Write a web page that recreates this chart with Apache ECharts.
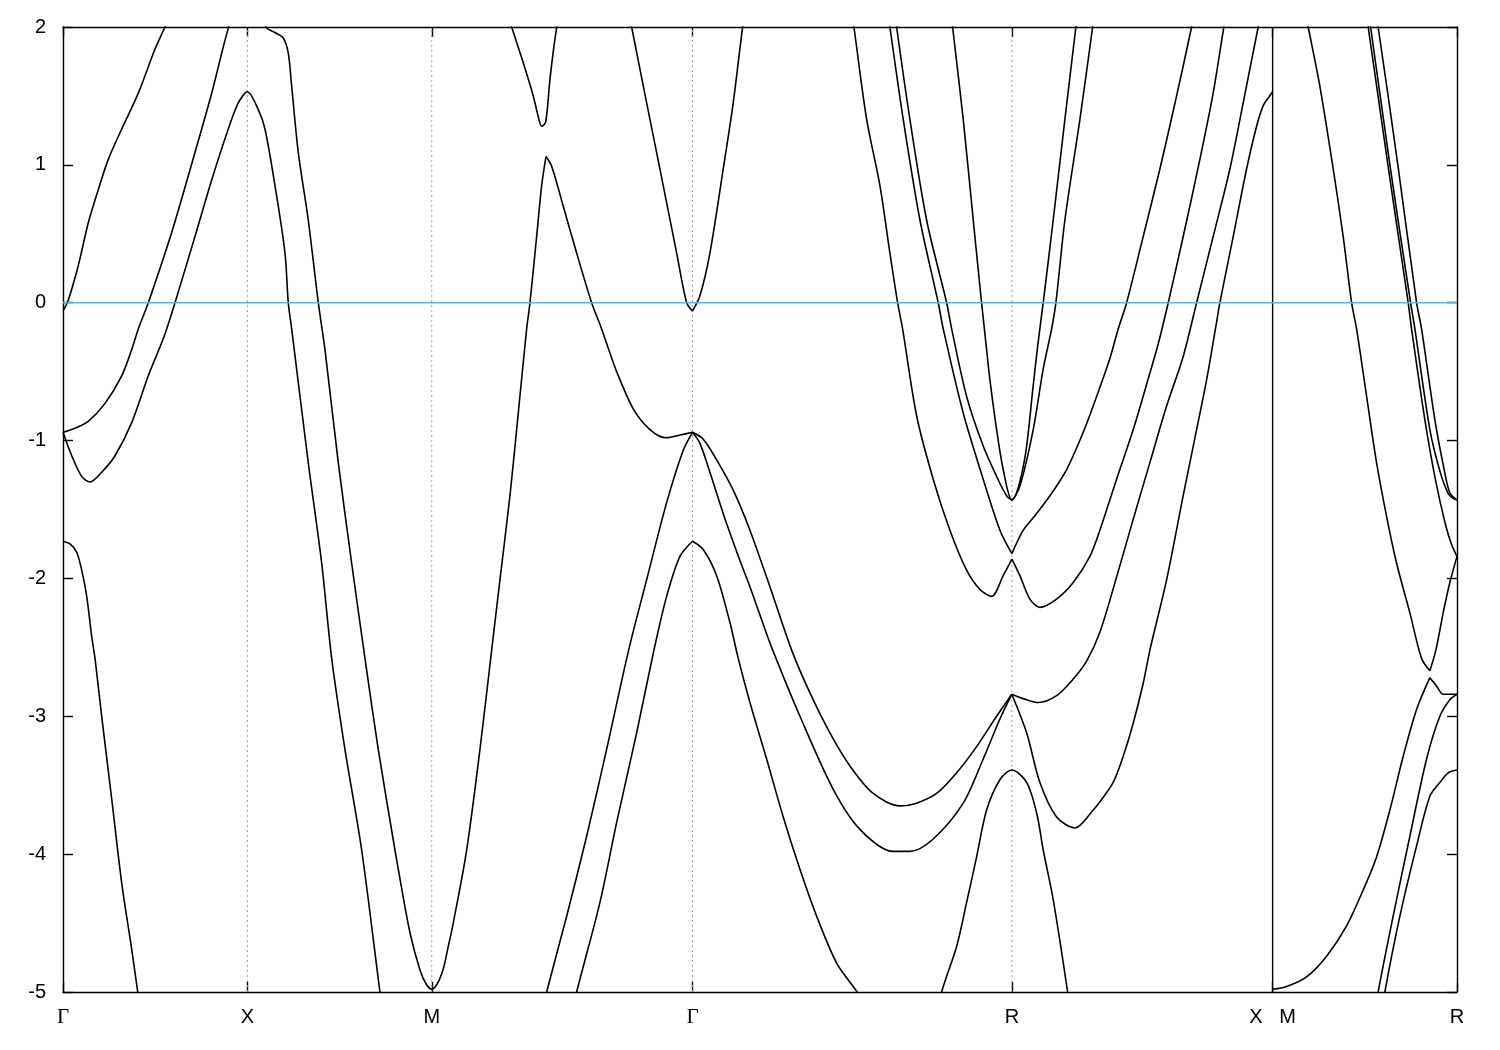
<!DOCTYPE html>
<html>
<head>
<meta charset="utf-8">
<script src="https://cdn.jsdelivr.net/npm/echarts@6/dist/echarts.min.js"></script>
<style>
html,body{margin:0;padding:0;background:#fff;}
#chart{width:1500px;height:1050px;}
</style>
</head>
<body>
<div id="chart"></div>
<script>
// High-symmetry points along the k-path (cumulative path length)
const kTicks = [0, 0.5, 1.0, 1.7071, 2.5731, 3.2802, 3.7802];
const kLabels = ['Γ', 'X', 'M', 'Γ', 'R', 'X   M', 'R'];
const dottedAt = [0.5, 1.0, 1.7071, 2.5731];
const breakAt = 3.2802;
const eTicks = [-5, -4, -3, -2, -1, 0, 1, 2];

// Bands, [k, E] pairs
const bandA = [[0,-0.06],[0.0144,0.02],[0.0415,0.27],[0.0686,0.58],[0.0957,0.82],[0.1228,1.04],[0.1592,1.26],[0.2042,1.52],[0.2495,1.84],[0.2766,2.0],[0.2901,2.09]];
const bandB = [[0,-0.94],[0.0325,-0.91],[0.0686,-0.86],[0.1139,-0.73],[0.1592,-0.53],[0.1863,-0.34],[0.2042,-0.19],[0.2313,0],[0.2947,0.51],[0.3579,1.09],[0.4032,1.52],[0.4482,1.99],[0.5,2.4],[0.5504,2.0],[0.5748,1.96],[0.5973,1.92],[0.6109,1.81],[0.6201,1.57],[0.6380,1.09],[0.6651,0.60],[0.6923,0],[0.7104,-0.34],[0.7465,-1.16],[0.7828,-1.89],[0.8189,-2.58],[0.8549,-3.24],[0.9002,-3.97],[0.9138,-4.18],[0.9409,-4.57],[0.9680,-4.84],[0.9843,-4.94],[1.0,-4.98],[1.0152,-4.94],[1.0315,-4.83],[1.0439,-4.68],[1.0583,-4.50],[1.0946,-3.97],[1.1307,-3.24],[1.1624,-2.52],[1.1849,-2.01],[1.2120,-1.40],[1.2302,-0.92],[1.2573,-0.19],[1.2663,0.0],[1.2844,0.48],[1.2980,0.85],[1.3097,1.06],[1.3251,0.99],[1.3566,0.70],[1.3929,0.36],[1.4336,0.0],[1.4607,-0.19],[1.4786,-0.33],[1.5014,-0.50],[1.5464,-0.77],[1.5917,-0.92],[1.6369,-0.98],[1.6730,-0.96],[1.7071,-0.94]];
const bandC = [[0,-0.94],[0.0236,-1.11],[0.0507,-1.26],[0.0732,-1.30],[0.1049,-1.23],[0.1410,-1.11],[0.1863,-0.87],[0.2313,-0.53],[0.2676,-0.29],[0.2812,-0.19],[0.3037,0],[0.3579,0.48],[0.4032,0.89],[0.4482,1.26],[0.4753,1.45],[0.5,1.53],[0.5296,1.40],[0.5477,1.26],[0.5748,0.85],[0.6020,0.36],[0.6109,0],[0.6201,-0.19],[0.6651,-1.16],[0.7015,-1.89],[0.7286,-2.58],[0.7646,-3.24],[0.8099,-3.97],[0.8595,-5.0],[0.8677,-5.15]];
const bandD = [[0,-1.73],[0.0190,-1.75],[0.0371,-1.81],[0.0507,-1.94],[0.0643,-2.13],[0.0778,-2.42],[0.0868,-2.58],[0.1049,-3.0],[0.1321,-3.60],[0.1592,-4.21],[0.1863,-4.69],[0.2026,-5.0],[0.2088,-5.12]];
const bandV = [[1.2058,2.09],[1.2167,2.0],[1.2481,1.74],[1.2752,1.50],[1.2888,1.35],[1.2980,1.28],[1.3088,1.31],[1.3205,1.62],[1.3313,1.86],[1.3387,2.0],[1.3422,2.09]];
const bandG = [[1.5355,2.09],[1.5420,2.0],[1.5827,1.45],[1.6277,0.85],[1.6641,0.36],[1.6912,0],[1.7071,-0.06],[1.7272,0.05],[1.7543,0.36],[1.7904,0.97],[1.8175,1.45],[1.8430,2.0],[1.8492,2.09]];
const lineP = [[1.3042,-5.1],[1.3116,-5.0],[1.3658,-4.45],[1.4200,-3.87],[1.4742,-3.24],[1.5339,-2.52],[1.5827,-2.01],[1.6369,-1.45],[1.6820,-1.07],[1.7071,-0.94]];
const lineQ = [[1.3856,-5.1],[1.3929,-5.0],[1.4561,-4.35],[1.5014,-3.77],[1.5556,-3.12],[1.6025,-2.52],[1.6369,-2.13],[1.6730,-1.84],[1.7071,-1.73]];
const grLow = [[1.7071,-1.73],[1.7362,-1.79],[1.7725,-1.98],[1.8086,-2.32],[1.8311,-2.58],[1.8628,-2.90],[1.9081,-3.31],[1.9531,-3.73],[1.9984,-4.11],[2.0437,-4.45],[2.0979,-4.79],[2.1538,-5.0],[2.1665,-5.06]];
const grUp = [[1.7071,-0.94],[1.7362,-0.99],[1.7725,-1.14],[1.8175,-1.36],[1.8628,-1.65],[1.9170,-2.06],[1.9759,-2.52],[2.0255,-2.83],[2.0797,-3.12],[2.1340,-3.36],[2.1971,-3.56],[2.2695,-3.65],[2.3148,-3.63],[2.3690,-3.56],[2.4233,-3.41],[2.4775,-3.22],[2.5317,-3.0],[2.5731,-2.84]];
const grIn = [[1.7071,-0.94],[1.7272,-1.02],[1.7543,-1.23],[1.7904,-1.53],[1.8357,-1.87],[1.8628,-2.06],[1.8880,-2.25],[1.9217,-2.50],[1.9984,-3.0],[2.0887,-3.53],[2.1611,-3.82],[2.2514,-3.98],[2.2966,-3.98],[2.3598,-3.89],[2.4412,-3.63],[2.4954,-3.31],[2.5407,-3.02],[2.5731,-2.84]];
const rx1 = [[2.5731,-2.84],[2.6131,-2.88],[2.6446,-2.90],[2.6944,-2.85],[2.7395,-2.73],[2.7757,-2.60],[2.8118,-2.39],[2.8571,-1.99],[2.9022,-1.57],[2.9474,-1.16],[2.9927,-0.75],[3.0377,-0.39],[3.0741,0],[3.1190,0.48],[3.1643,0.97],[3.2004,1.45],[3.2411,2.0],[3.2484,2.09]];
const rx2 = [[2.5731,-2.84],[2.6131,-3.12],[2.6491,-3.48],[2.6944,-3.73],[2.7440,-3.81],[2.7937,-3.68],[2.8118,-3.62],[2.8479,-3.48],[2.8750,-3.29],[2.9022,-3.05],[2.9293,-2.76],[2.9474,-2.52],[2.9927,-2.01],[3.0377,-1.40],[3.0741,-0.92],[3.1012,-0.56],[3.1264,-0.17],[3.1372,0],[3.1733,0.48],[3.2096,0.97],[3.2368,1.28],[3.2547,1.43],[3.2723,1.50],[3.2802,1.53]];
const L1 = [[2.1394,2.09],[2.1448,2.0],[2.1793,1.33],[2.2153,0.85],[2.2424,0.36],[2.2633,0],[2.2768,-0.19],[2.3148,-0.82],[2.3598,-1.28],[2.4051,-1.65],[2.4504,-1.94],[2.4864,-2.08],[2.5182,-2.13],[2.5496,-1.98],[2.5731,-1.86],[2.5949,-1.98],[2.6220,-2.15],[2.6491,-2.21],[2.6944,-2.15],[2.7395,-2.03],[2.7847,-1.84],[2.8118,-1.65],[2.8571,-1.28],[2.9022,-0.92],[2.9474,-0.51],[2.9699,-0.30],[2.9971,0],[3.0377,0.48],[3.0830,1.04],[3.1190,1.52],[3.1480,2.0],[3.1548,2.09]];
const L2 = [[2.2384,2.09],[2.2424,2.0],[2.2785,1.33],[2.3238,0.60],[2.3734,0],[2.3870,-0.19],[2.4412,-0.80],[2.4954,-1.28],[2.5407,-1.65],[2.5731,-1.82],[2.6039,-1.65],[2.6310,-1.56],[2.6763,-1.40],[2.7216,-1.21],[2.7666,-0.94],[2.8029,-0.68],[2.8371,-0.42],[2.8615,-0.19],[2.8843,0],[2.9293,0.48],[2.9745,0.97],[3.0198,1.50],[3.0605,2.0],[3.0667,2.09]];
const L3 = [[2.2573,2.09],[2.2606,2.0],[2.2966,1.33],[2.3419,0.60],[2.3962,0],[2.4098,-0.19],[2.4504,-0.68],[2.4954,-1.04],[2.5317,-1.26],[2.5588,-1.40],[2.5731,-1.43],[2.5895,-1.35],[2.6111,-1.08],[2.6302,-0.62],[2.6437,-0.30],[2.6581,0],[2.6852,0.60],[2.7169,1.33],[2.7467,2.0],[2.7508,2.09]];
const L4 = [[2.4092,2.09],[2.4124,2.0],[2.4412,1.33],[2.4683,0.60],[2.4910,0],[2.5046,-0.34],[2.5136,-0.56],[2.5317,-0.92],[2.5496,-1.21],[2.5731,-1.43],[2.5949,-1.33],[2.6310,-0.92],[2.6581,-0.48],[2.6809,-0.19],[2.6925,0],[2.7169,0.60],[2.7576,1.33],[2.7921,2.0],[2.7956,2.09]];
const peakR = [[2.3753,-5.15],[2.3826,-5.0],[2.4233,-4.67],[2.4504,-4.35],[2.4775,-4.02],[2.5046,-3.68],[2.5407,-3.46],[2.5731,-3.39],[2.6131,-3.48],[2.6402,-3.70],[2.6581,-3.97],[2.6852,-4.33],[2.7243,-5.0],[2.7305,-5.15]];
const mBand = [[3.2802,-4.98],[3.3181,-4.96],[3.3723,-4.89],[3.4266,-4.74],[3.4808,-4.52],[3.5258,-4.26],[3.5621,-4.02],[3.5982,-3.68],[3.6343,-3.29],[3.6706,-2.95],[3.7066,-2.72],[3.7248,-2.78],[3.7427,-2.84],[3.7802,-2.84]];
const m1 = [[3.3704,2.09],[3.3767,2.0],[3.4084,1.57],[3.4445,0.97],[3.4716,0.48],[3.4944,0],[3.5079,-0.19],[3.5351,-0.68],[3.5621,-1.16],[3.5892,-1.55],[3.6164,-1.89],[3.6524,-2.25],[3.6841,-2.58],[3.7066,-2.67],[3.7229,-2.52],[3.7427,-2.25],[3.7608,-2.03],[3.7802,-1.84]];
const b1 = [[3.5331,2.09],[3.5393,2.0],[3.5928,1.0],[3.6478,0],[3.6570,-0.19],[3.6931,-0.85],[3.7229,-1.30],[3.7500,-1.62],[3.7663,-1.76],[3.7802,-1.84]];
const b2 = [[3.5399,2.09],[3.5458,2.0],[3.5982,1.0],[3.6543,0],[3.6660,-0.19],[3.7066,-0.92],[3.7337,-1.22],[3.7554,-1.38],[3.7690,-1.42],[3.7802,-1.43]];
const b3 = [[3.5602,2.09],[3.5664,2.0],[3.6198,1.0],[3.6706,0],[3.6841,-0.19],[3.7202,-0.85],[3.7446,-1.2],[3.7608,-1.38],[3.7802,-1.43]];
const p1 = [[3.5602,-5.15],[3.5664,-5.0],[3.6071,-4.45],[3.6524,-3.87],[3.6977,-3.31],[3.7337,-3.0],[3.7608,-2.88],[3.7802,-2.84]];
const p2 = [[3.5779,-5.15],[3.5846,-5.0],[3.6253,-4.45],[3.6706,-3.94],[3.7066,-3.58],[3.7337,-3.48],[3.7563,-3.41],[3.7802,-3.39]];

// bands paired with k positions where the curve has a sharp corner
const bands = [
  [bandA, []], [bandB, [1.3097]], [bandC, []], [bandD, []], [bandV, []], [bandG, [1.7071]],
  [lineP, []], [lineQ, []], [grLow, []], [grUp, []], [grIn, []],
  [rx1, []], [rx2, []], [L1, [2.5731]], [L2, [2.5731]], [L3, []], [L4, []], [peakR, []],
  [mBand, [3.7066]], [m1, [3.7066]], [b1, []], [b2, []], [b3, []], [p1, []], [p2, []]
];

const kMin = kTicks[0], kMax = kTicks[kTicks.length - 1];
const eMin = eTicks[0], eMax = eTicks[eTicks.length - 1];
const FONT = "'Liberation Sans', Arial, sans-serif";

function splitAt(data, corners) {
  const parts = [];
  let cur = [];
  data.forEach(p => {
    cur.push(p);
    if (corners.some(c => Math.abs(c - p[0]) < 1e-6)) { parts.push(cur); cur = [p]; }
  });
  if (cur.length > 1) parts.push(cur);
  return parts;
}

function labelFor(v) {
  let best = 0, d = Infinity;
  kTicks.forEach((t, i) => { const dd = Math.abs(t - v); if (dd < d) { d = dd; best = i; } });
  const s = kLabels[best];
  return s === 'Γ' ? '{g|Γ}' : s;
}

const series = [];
dottedAt.forEach(k => series.push({
  type: 'line', data: [[k, eMin], [k, eMax]], showSymbol: false, silent: true, z: 1,
  lineStyle: { color: '#9a9a9a', width: 1, type: [2, 3] }
}));
bands.forEach(([b, corners]) => splitAt(b, corners).forEach(part => series.push({
  type: 'line', data: part, showSymbol: false, silent: true, z: 3, smooth: 0.3,
  lineStyle: { color: '#000', width: 1.6 }
})));
series.push({
  type: 'line', data: [[breakAt, eMin], [breakAt, eMax]], showSymbol: false, silent: true, z: 4,
  lineStyle: { color: '#000', width: 1.4 }
});
series.push({
  type: 'line', data: [[kMin, 0], [kMax, 0]], showSymbol: false, silent: true, z: 5,
  lineStyle: { color: '#56B4E9', width: 1.6 }
});

const axisLineStyle = { color: '#000', width: 1.4 };
const option = {
  animation: false,
  backgroundColor: '#fff',
  grid: { left: 63, right: 43, top: 27, bottom: 58, containLabel: false },
  xAxis: [
    {
      type: 'value', min: kMin, max: kMax, position: 'bottom',
      axisLine: { show: true, onZero: false, lineStyle: axisLineStyle },
      axisTick: { show: true, inside: true, length: 10, customValues: kTicks, lineStyle: axisLineStyle },
      axisLabel: {
        show: true, customValues: kTicks, formatter: v => labelFor(v), color: '#000',
        fontSize: 20, fontFamily: FONT, margin: 15,
        rich: { g: { fontSize: 21, fontFamily: "'Liberation Serif', 'DejaVu Serif', serif", color: '#000' } }
      },
      splitLine: { show: false }
    },
    {
      type: 'value', min: kMin, max: kMax, position: 'top',
      axisLine: { show: true, onZero: false, lineStyle: axisLineStyle },
      axisTick: { show: true, inside: true, length: 10, customValues: kTicks, lineStyle: axisLineStyle },
      axisLabel: { show: false },
      splitLine: { show: false }
    }
  ],
  yAxis: [
    {
      type: 'value', min: eMin, max: eMax, interval: 1, position: 'left',
      axisLine: { show: true, onZero: false, lineStyle: axisLineStyle },
      axisTick: { show: true, inside: true, length: 10, lineStyle: axisLineStyle },
      axisLabel: { show: true, color: '#000', fontSize: 20, fontFamily: FONT, margin: 17 },
      splitLine: { show: false }
    },
    {
      type: 'value', min: eMin, max: eMax, interval: 1, position: 'right',
      axisLine: { show: true, onZero: false, lineStyle: axisLineStyle },
      axisTick: { show: true, inside: true, length: 10, lineStyle: axisLineStyle },
      axisLabel: { show: false },
      splitLine: { show: false }
    }
  ],
  series: series
};

const chart = echarts.init(document.getElementById('chart'), null, { renderer: 'canvas' });
chart.setOption(option);
</script>
</body>
</html>
